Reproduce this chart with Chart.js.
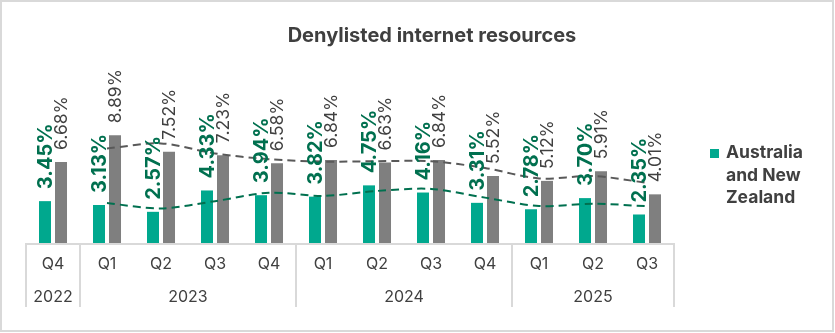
<!DOCTYPE html>
<html>
<head>
<meta charset="utf-8">
<script src="https://cdn.jsdelivr.net/npm/chart.js@4"></script>
<style>
    body { margin: 0; background: #fff; }
    #wrap { position: relative; width: 835px; height: 333px; }
    #frame { position: absolute; left: 0; top: 0; width: 834px; height: 332px; border: 2px solid #d9d9d9; box-sizing: border-box; }
    #title { position: absolute; left: 232px; width: 400px; top: 23px; text-align: center;
             font: bold 20px Inter, sans-serif; color: #3f3f3f; }
    #legend { position: absolute; left: 710px; top: 141px; font: bold 17.5px Inter, sans-serif; color: #404040; line-height: 22.5px; }
    #legend span.box { position: absolute; left: 0; top: 8px; width: 9px; height: 9px; background: #00a88e; }
    #legend div.txt { margin-left: 16px; }
    canvas { position: absolute; left: 0; top: 0; }
</style>
</head>
<body>
<div id="wrap">
    <canvas id="myChart" width="835" height="333"></canvas>
    <div id="frame"></div>
    <div id="title">Denylisted internet resources</div>
    <div id="legend"><span class="box"></span><div class="txt">Australia<br>and New<br>Zealand</div></div>
</div>
<script>
// quarters and years (two level axis)
const quarters = ['Q4', 'Q1', 'Q2', 'Q3', 'Q4', 'Q1', 'Q2', 'Q3', 'Q4', 'Q1', 'Q2', 'Q3'];
const years = ['2022', '2023', '2023', '2023', '2023', '2024', '2024', '2024', '2024', '2025', '2025', '2025'];

// share of denylisted resources, %
const anzValues = [3.45, 3.13, 2.57, 4.33, 3.94, 3.82, 4.75, 4.16, 3.31, 2.78, 3.70, 2.35];
const worldValues = [6.68, 8.89, 7.52, 7.23, 6.58, 6.84, 6.63, 6.84, 5.52, 5.12, 5.91, 4.01];

// dashed trend lines
const anzTrend = [null, 3.29, 2.85, 3.45, 4.14, 3.88, 4.29, 4.46, 3.74, 3.05, 3.24, 3.03];
const worldTrend = [null, 7.79, 8.21, 7.38, 6.91, 6.71, 6.74, 6.74, 6.18, 5.32, 5.52, 4.96];

const labels = quarters.map((q, i) => years[i] + ' ' + q);

// rotated value labels above bars
const valueLabels = {
    id: 'valueLabels',
    afterDatasetsDraw(chart) {
        const ctx = chart.ctx;
        [0, 1].forEach(function(di) {
            const meta = chart.getDatasetMeta(di);
            const ds = chart.data.datasets[di];
            meta.data.forEach(function(bar, i) {
                ctx.save();
                ctx.translate(bar.x + 1, bar.y - 12);
                ctx.rotate(-Math.PI / 2);
                ctx.textAlign = 'left';
                ctx.textBaseline = 'middle';
                if (di === 0) {
                    ctx.font = 'bold 20px Inter, sans-serif';
                    ctx.fillStyle = '#00704f';
                } else {
                    ctx.font = '17.5px Inter, sans-serif';
                    ctx.fillStyle = '#404040';
                }
                ctx.fillText(ds.data[i].toFixed(2) + '%', 0, 0);
                ctx.restore();
            });
        });
    }
};

// quarter / year axis with group separators
const groupAxis = {
    id: 'groupAxis',
    afterDraw(chart) {
        const ctx = chart.ctx;
        const x = chart.scales.x;
        const bottom = chart.chartArea.bottom;
        const half = (x.getPixelForValue(1) - x.getPixelForValue(0)) / 2;
        const left = x.getPixelForValue(0) - half;
        const right = x.getPixelForValue(quarters.length - 1) + half;
        ctx.save();
        ctx.strokeStyle = '#d9d9d9';
        ctx.lineWidth = 2;
        ctx.beginPath();
        ctx.moveTo(left - 1, bottom + 1);
        ctx.lineTo(right + 1, bottom + 1);
        ctx.stroke();

        ctx.font = '16px Inter, sans-serif';
        ctx.fillStyle = '#404040';
        ctx.textAlign = 'center';
        ctx.textBaseline = 'middle';
        let start = 0;
        for (let i = 0; i <= quarters.length; i++) {
            if (i === quarters.length || years[i] !== years[start]) {
                const a = x.getPixelForValue(start) - half;
                const b = x.getPixelForValue(i - 1) + half;
                ctx.fillText(years[start], (a + b) / 2, bottom + 54);
                start = i;
            }
            if (i === 0 || i === quarters.length || years[i] !== years[i - 1]) {
                const px = i === quarters.length ? right : x.getPixelForValue(i) - half;
                ctx.beginPath();
                ctx.moveTo(px, bottom);
                ctx.lineTo(px, bottom + 64);
                ctx.stroke();
            }
        }
        quarters.forEach(function(q, i) {
            ctx.fillText(q, x.getPixelForValue(i), bottom + 21);
        });
        ctx.restore();
    }
};

const ctx = document.getElementById('myChart').getContext('2d');
new Chart(ctx, {
    type: 'bar',
    data: {
        labels: labels,
        datasets: [{
            label: 'Australia and New Zealand',
            data: anzValues,
            backgroundColor: '#00a88e',
            categoryPercentage: 0.593,
            barPercentage: 0.75,
            order: 2
        }, {
            label: 'World',
            data: worldValues,
            backgroundColor: '#7f7f7f',
            categoryPercentage: 0.593,
            barPercentage: 0.75,
            order: 2
        }, {
            type: 'line',
            label: 'Australia and New Zealand trend',
            data: anzTrend,
            borderColor: '#00704f',
            borderWidth: 2,
            borderDash: [8, 5],
            pointRadius: 0,
            tension: 0.3,
            fill: false,
            order: 1
        }, {
            type: 'line',
            label: 'World trend',
            data: worldTrend,
            borderColor: '#595959',
            borderWidth: 2,
            borderDash: [8, 5],
            pointRadius: 0,
            tension: 0.3,
            fill: false,
            order: 1
        }]
    },
    options: {
        responsive: false,
        animation: false,
        layout: { padding: { left: 26, right: 161, top: 61, bottom: 90 } },
        scales: {
            x: { display: false },
            y: { display: false, min: 0, max: 15 }
        },
        plugins: {
            legend: { display: false },
            tooltip: { enabled: false }
        }
    },
    plugins: [valueLabels, groupAxis]
});
</script>
</body>
</html>
